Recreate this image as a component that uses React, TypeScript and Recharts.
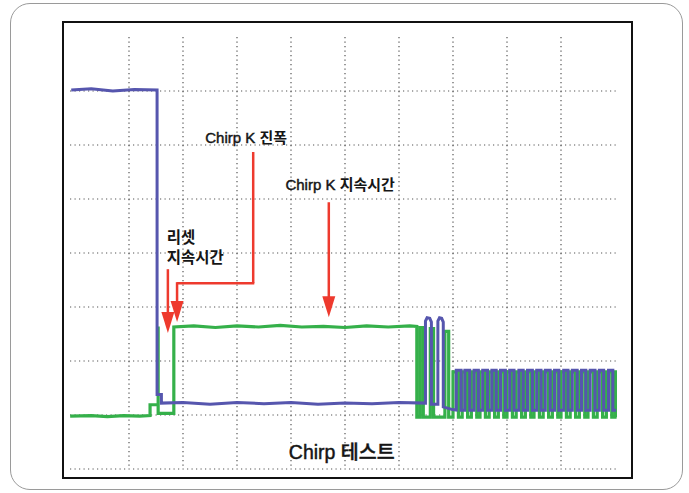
import { CartesianGrid, Line, LineChart, ReferenceDot, ReferenceLine, XAxis, YAxis } from "recharts";

// time and level are in scope divisions (10 x 8 grid)
const blueLead = [
    [-0.07, 7.02], [0.3, 7.04], [0.7, 7.0], [1.1, 7.03], [1.52, 7.02],
    [1.52, 1.38], [1.6, 1.38], [1.6, 1.22], [2.0, 1.23], [2.5, 1.2], [3.0, 1.23],
    [3.5, 1.21], [4.0, 1.23], [4.5, 1.2], [5.0, 1.22], [5.5, 1.21], [6.0, 1.23], [6.49, 1.22],
    [6.49, 2.74], [6.52, 2.8], [6.57, 2.79], [6.6, 2.72], [6.6, 1.2], [6.72, 1.2],
    [6.72, 2.74], [6.75, 2.8], [6.79, 2.79], [6.82, 2.72], [6.82, 1.15], [6.99, 1.1],
];
const bluePulses = [
    [7.06, 7.15], [7.22, 7.31], [7.39, 7.47], [7.55, 7.64], [7.72, 7.8], [7.88, 7.97],
    [8.05, 8.13], [8.22, 8.3], [8.38, 8.47], [8.55, 8.63], [8.71, 8.8], [8.88, 8.96],
    [9.05, 9.13], [9.21, 9.3], [9.38, 9.46], [9.54, 9.63], [9.71, 9.79], [9.88, 9.96],
];

const greenLead = [
    [-0.09, 0.98], [0.3, 0.99], [0.6, 0.97], [0.9, 0.99], [1.2, 0.98], [1.39, 0.99],
    [1.39, 1.19], [1.54, 1.19], [1.54, 2.64], [1.54, 1.03], [1.83, 1.03], [1.83, 2.63],
    [2.2, 2.65], [2.6, 2.62], [3.0, 2.65], [3.4, 2.63], [3.8, 2.66], [4.2, 2.63], [4.6, 2.64],
    [5.0, 2.62], [5.4, 2.65], [5.8, 2.63], [6.2, 2.65], [6.33, 2.64],
    [6.33, 0.96], [6.39, 0.96], [6.39, 2.62], [6.45, 2.62], [6.45, 0.96], [6.58, 0.96],
    [6.58, 2.6], [6.64, 2.6], [6.64, 0.96], [6.85, 0.96], [6.85, 2.55], [6.92, 2.55],
    [6.92, 0.96], [6.98, 0.96],
];
const greenPulses = [
    [7.0, 7.1], [7.17, 7.27], [7.34, 7.44], [7.5, 7.6], [7.67, 7.77], [7.84, 7.94],
    [8.0, 8.1], [8.17, 8.27], [8.34, 8.44], [8.5, 8.6], [8.67, 8.77], [8.84, 8.94],
    [9.0, 9.1], [9.17, 9.27], [9.34, 9.44], [9.5, 9.6], [9.67, 9.77], [9.84, 9.94], [10.0, 10.04],
];

const BLUE_LEVELS = [1.83, 1.09];
const GREEN_LEVELS = [1.8, 0.96];

const toPoints = (lead: number[][], pulses: number[][], [hi, lo]: number[], end: number) => {
    const pts = lead.map(([t, v]) => ({ t, v }));
    pulses.forEach(([up, down]) => {
        pts.push({ t: up, v: lo }, { t: up, v: hi }, { t: down, v: hi }, { t: down, v: lo });
    });
    pts.push({ t: end, v: lo });
    return pts;
};

const blueData = toPoints(blueLead, bluePulses, BLUE_LEVELS, 10.02);
const greenData = toPoints(greenLead, greenPulses, GREEN_LEVELS, 10.04);

const RED = "#EE3A2E";
const INK = "#151515";
const FONT = "'Liberation Sans Narrow', Arial, 'Liberation Sans', 'Noto Sans CJK KR', sans-serif";

const ArrowHead = (props: any) => {
    const { cx, cy } = props;
    return <polygon points={`${cx},${cy} ${cx - 6.5},${cy - 21} ${cx + 6.5},${cy - 21}`} fill={RED} />;
};

// each line is [latin part, hangul part]; latin gets a hairline stroke to look medium weight
const makeText = (lines: string[][], anchor: "start" | "middle", size: number, koWeight: number, gap = 20) => (props: any) => {
    const { cx, cy } = props;
    return (
        <text x={cx} y={cy} textAnchor={anchor} fontFamily={FONT} fontSize={size} fill={INK}>
            {lines.map(([latin, ko], i) => (
                <tspan key={i} x={cx} dy={i === 0 ? size * 0.36 : gap}>
                    {latin && <tspan stroke={INK} strokeWidth={0.45}>{latin}</tspan>}
                    <tspan fontWeight={koWeight} stroke={koWeight < 700 ? INK : "none"} strokeWidth={0.4}>{ko}</tspan>
                </tspan>
            ))}
        </text>
    );
};

const ampLabel = makeText([["Chirp K ", "진폭"]], "middle", 15, 700);
const durLabel = makeText([["Chirp K ", "지속시간"]], "middle", 15, 700);
const resetLabel = makeText([["", "리셋"], ["", "지속시간"]], "start", 15.5, 700, 20);
const titleLabel = makeText([["Chirp ", "테스트"]], "middle", 19.5, 500);

const App = () => {
    return (
        <div style={{ position: "absolute", left: 0, top: 0, width: 689, height: 493, background: "#fff" }}>
            {/* rounded outer frame */}
            <div style={{ position: "absolute", left: 10, top: 3, width: 671, height: 485, border: "1.5px solid #9a9a9a", borderRadius: 20 }} />
            {/* scope screen border */}
            <div style={{ position: "absolute", left: 62, top: 21, width: 567, height: 454, border: "2px solid #111" }} />
            <div style={{ position: "absolute", left: 0, top: 0 }}>
                <LineChart width={689} height={493} margin={{ left: 70, right: 72, top: 37, bottom: 24 }}>
                    <CartesianGrid
                        stroke="#555"
                        strokeWidth={1.2}
                        strokeDasharray="1.2 3.3"
                        horizontalValues={[0, 1, 2, 3, 4, 5, 6, 7]}
                        verticalValues={[1, 2, 3, 4, 5, 6, 7, 8, 9]}
                    />
                    <XAxis type="number" dataKey="t" domain={[-0.0926, 10.037]} allowDataOverflow hide />
                    <YAxis type="number" dataKey="v" domain={[0, 8]} allowDataOverflow hide />
                    <Line data={greenData} dataKey="v" type="linear" stroke="#35B04A" strokeWidth={3.2} dot={false} isAnimationActive={false} />
                    <Line data={blueData} dataKey="v" type="linear" stroke="#5656AE" strokeWidth={3} dot={false} isAnimationActive={false} />

                    {/* reset duration arrow */}
                    <ReferenceLine segment={[{ x: 1.72, y: 3.7 }, { x: 1.72, y: 2.8 }]} stroke={RED} strokeWidth={2.5} />
                    <ReferenceDot x={1.72} y={2.52} shape={ArrowHead} />
                    {/* chirp amplitude arrow */}
                    <ReferenceLine segment={[{ x: 3.3, y: 5.87 }, { x: 3.3, y: 3.44 }]} stroke={RED} strokeWidth={2.5} />
                    <ReferenceLine segment={[{ x: 3.32, y: 3.44 }, { x: 1.89, y: 3.44 }]} stroke={RED} strokeWidth={2.5} />
                    <ReferenceLine segment={[{ x: 1.89, y: 3.46 }, { x: 1.89, y: 3.0 }]} stroke={RED} strokeWidth={2.5} />
                    <ReferenceDot x={1.89} y={2.72} shape={ArrowHead} />
                    {/* chirp duration arrow */}
                    <ReferenceLine segment={[{ x: 4.7, y: 4.94 }, { x: 4.7, y: 3.1 }]} stroke={RED} strokeWidth={2.5} />
                    <ReferenceDot x={4.7} y={2.81} shape={ArrowHead} />

                    <ReferenceDot x={3.17} y={6.13} shape={ampLabel} />
                    <ReferenceDot x={4.91} y={5.26} shape={durLabel} />
                    <ReferenceDot x={1.7} y={4.28} shape={resetLabel} />
                    <ReferenceDot x={4.94} y={0.315} shape={titleLabel} />
                </LineChart>
            </div>
        </div>
    );
};

export default App;
